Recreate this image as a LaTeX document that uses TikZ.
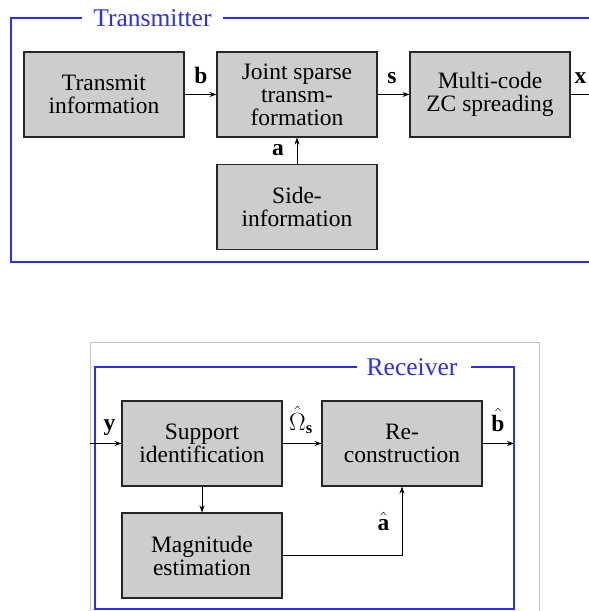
\documentclass[tikz,border=0pt]{standalone}
\usepackage{fontspec}
\setmainfont{LiberationSerif}[Extension=.ttf, UprightFont=*-Regular,
  BoldFont=*-Bold, ItalicFont=*-Italic, BoldItalicFont=*-BoldItalic]
\usetikzlibrary{arrows.meta}
\definecolor{frameblue}{RGB}{45,45,250}
\definecolor{boxgray}{RGB}{205,205,205}
\definecolor{edgegray}{RGB}{195,195,195}
\tikzset{
  blk/.style={draw=black!85, line width=1.1pt, fill=boxgray, minimum width=160pt,
    minimum height=85pt, inner sep=0pt, align=center,
    font=\fontsize{23.5}{23}\selectfont},
  sig/.style={anchor=base, inner sep=0pt, font=\fontsize{23.5}{26}\selectfont},
  flow/.style={line width=0.9pt, -{Stealth[length=7pt,width=5pt]}},
  wire/.style={line width=0.9pt},
  group/.style={draw=frameblue, line width=1.3pt},
  grouptitle/.style={anchor=base, inner sep=0pt, text=frameblue,
    font=\fontsize{25.5}{28}\selectfont},
}
\begin{document}
\begin{tikzpicture}[x=1pt,y=-1pt]
\useasboundingbox (0,0) rectangle (589,611);

% ---------------- transmitter ----------------
\node[grouptitle] (ttl) at (152.5,26.5) {Transmitter};
\draw[group] (82,18) -- (11,18) -- (11,262) -- (589,262);
\draw[group] (223,18) -- (589,18);

\node[blk] (tinfo) at (104,94.5) {Transmit\\information};
\node[blk] (jst)   at (297,94.5) {Joint sparse\\transm-\\formation};
\node[blk] (zc)    at (490,94.5) {Multi-code\\ZC spreading};
\node[blk] (side)  at (297,207)  {Side-\\information};
\coordinate (xout) at (589,94.5);

\draw[flow] (tinfo) -- (jst);
\draw[flow] (jst) -- (zc);
\draw[wire] (zc) -- (xout);
\draw[flow] (side) -- (jst);

\node[sig] (lb) at (201,83)  {$\mathbf{b}$};
\node[sig] (ls) at (392,83)  {$\mathbf{s}$};
\node[sig] (lx) at (580.5,83) {$\mathbf{x}$};
\node[sig] (la) at (278,155) {$\mathbf{a}$};

% ---------------- receiver ----------------
\draw[edgegray, line width=0.8pt] (90,620) -- (90,342) -- (539,342) -- (539,620);
\node[grouptitle] (rttl) at (412,375.5) {Receiver};
\draw[group] (357,367) -- (95,367) -- (95,609) -- (514,609) -- (514,367) -- (471,367);

\node[blk] (supp)  at (202,443.5) {Support\\identification};
\node[blk] (recon) at (402,443.5) {Re-\\construction};
\node[blk] (mag)   at (202,555.5) {Magnitude\\estimation};
\coordinate (yin)  at (90,443.5);
\coordinate (bout) at (514,443.5);
\coordinate (bend) at (402,555.5);

\draw[flow] (yin) -- (supp);
\draw[flow] (supp) -- (recon);
\draw[flow] (recon) -- (bout);
\draw[flow] (supp) -- (mag);
\draw[flow] (mag.east) -- (bend) -- (recon.south);

\node[sig] (ly)  at (109.5,430) {$\mathbf{y}$};
\node[sig] (lom) at (301,430)   {$\hat{\Omega}_{\mathbf{s}}$};
\node[sig] (lbh) at (498,431)   {$\hat{\mathbf{b}}$};
\node[sig] (lah) at (383.5,530) {$\hat{\mathbf{a}}$};
\end{tikzpicture}
\end{document}
